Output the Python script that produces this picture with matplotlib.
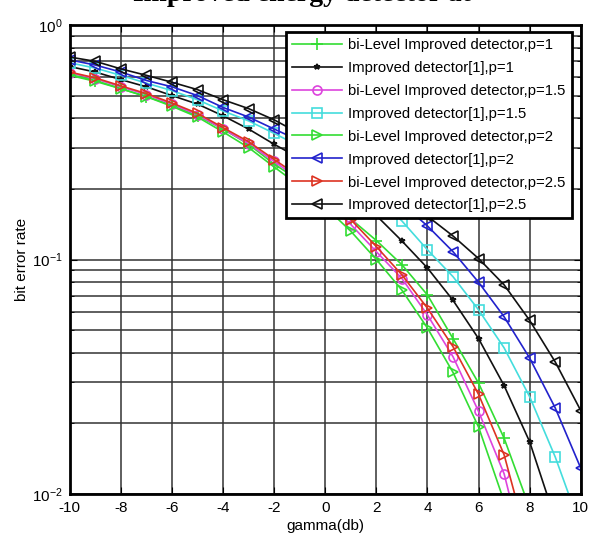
import numpy as np
import matplotlib.pyplot as plt
from matplotlib.ticker import LogLocator, NullFormatter

plt.rcParams['font.family'] = ['Liberation Sans', 'DejaVu Sans']
plt.rcParams['axes.unicode_minus'] = False

gamma_db = np.arange(-10, 11)

# bit error rate, one value per integer gamma
ber_imp_p25 = [0.73, 0.70, 0.65, 0.61, 0.57, 0.53, 0.48, 0.44, 0.394, 0.344, 0.299,
               0.258, 0.219, 0.185, 0.153, 0.126, 0.101, 0.078, 0.055, 0.0366, 0.0227]
ber_imp_p2 = [0.71, 0.675, 0.63, 0.58, 0.545, 0.50, 0.445, 0.405, 0.36, 0.321, 0.282,
              0.245, 0.208, 0.173, 0.139, 0.108, 0.080, 0.057, 0.038, 0.0233, 0.0129]
ber_imp_p15 = [0.69, 0.655, 0.61, 0.565, 0.525, 0.48, 0.43, 0.39, 0.345, 0.304, 0.264,
               0.223, 0.184, 0.146, 0.11, 0.0845, 0.061, 0.042, 0.026, 0.0144, 0.0072]
ber_imp_p1 = [0.665, 0.63, 0.585, 0.545, 0.50, 0.46, 0.41, 0.36, 0.31, 0.27, 0.23,
              0.191, 0.154, 0.12, 0.092, 0.067, 0.046, 0.029, 0.0167, 0.0078, 0.0033]
ber_bi_p25 = [0.63, 0.595, 0.55, 0.51, 0.465, 0.42, 0.365, 0.318, 0.267, 0.225, 0.185,
              0.148, 0.1135, 0.086, 0.062, 0.0425, 0.0266, 0.0147, 0.0058, 0.002, 0.0007]
ber_bi_p15 = [0.625, 0.59, 0.545, 0.505, 0.46, 0.415, 0.36, 0.312, 0.262, 0.219, 0.179,
              0.141, 0.108, 0.083, 0.058, 0.0385, 0.0225, 0.0122, 0.0045, 0.0015, 0.0005]
ber_bi_p2 = [0.615, 0.58, 0.535, 0.495, 0.45, 0.405, 0.35, 0.30, 0.248, 0.206, 0.1675,
             0.132, 0.10, 0.074, 0.051, 0.033, 0.0193, 0.0093, 0.004, 0.0014, 0.0005]
ber_bi_p1 = [0.61, 0.575, 0.535, 0.495, 0.455, 0.41, 0.36, 0.31, 0.255, 0.217, 0.1815,
             0.149, 0.1205, 0.095, 0.0706, 0.046, 0.0297, 0.0173, 0.0087, 0.0035, 0.0012]

labels = ['bi-Level Improved detector,p=1', 'Improved detector[1],p=1',
          'bi-Level Improved detector,p=1.5', 'Improved detector[1],p=1.5',
          'bi-Level Improved detector,p=2', 'Improved detector[1],p=2',
          'bi-Level Improved detector,p=2.5', 'Improved detector[1],p=2.5']
series = [ber_bi_p1, ber_imp_p1, ber_bi_p15, ber_imp_p15,
          ber_bi_p2, ber_imp_p2, ber_bi_p25, ber_imp_p25]
colors = ['#33dd33', '#111111', '#dd44dd', '#44dddd',
          '#33dd33', '#2222cc', '#dd3322', '#111111']
markers = ['+', '*', 'o', 's', '>', '<', '>', '<']
msizes = [8, 4, 6.5, 6.5, 6.5, 6.5, 6.5, 6.5]

fig = plt.figure(figsize=(5.92, 5.37), dpi=100)
ax = fig.add_axes([0.118, 0.080, 0.863, 0.8734])

for y, lab, c, m, ms in zip(series, labels, colors, markers, msizes):
    ax.semilogy(gamma_db, y, color=c, marker=m, markersize=ms, markerfacecolor='none',
                markeredgewidth=1.2, linewidth=1.2, label=lab)

ax.set_xlim(-10, 10)
ax.set_ylim(1e-2, 1)
ax.set_xticks(np.arange(-10, 11, 2))
ax.yaxis.set_major_locator(LogLocator(base=10))
ax.yaxis.set_minor_locator(LogLocator(base=10, subs=np.arange(2, 10)))
ax.yaxis.set_minor_formatter(NullFormatter())
ax.grid(True, which='major', color='#333333', linewidth=1.1)
ax.grid(True, which='minor', axis='y', color='#333333', linewidth=1.1)
ax.tick_params(which='both', direction='in', top=True, right=True, labelsize=11)
ax.tick_params(which='major', length=5)
ax.tick_params(which='minor', length=3)
ax.tick_params(axis='x', pad=5)
ax.tick_params(axis='y', pad=5)
for sp in ax.spines.values():
    sp.set_linewidth(2)

ax.set_xlabel('gamma(db)', fontsize=11, labelpad=3)
ax.set_ylabel('bit error rate', fontsize=11, labelpad=2)

leg = ax.legend(loc='upper right', bbox_to_anchor=(0.982, 0.985), fontsize=10.7,
                frameon=True, fancybox=False, edgecolor='black', framealpha=1,
                labelspacing=0.6, handlelength=3.4, handletextpad=0.4,
                borderpad=0.4, borderaxespad=0)
leg.get_frame().set_linewidth(2)

fig.text(0.51, 0.9975, 'Improved energy detector at', ha='center', va='baseline',
         fontsize=20, fontweight='bold', family='Liberation Serif')

fig.savefig('out.png', dpi=100)
